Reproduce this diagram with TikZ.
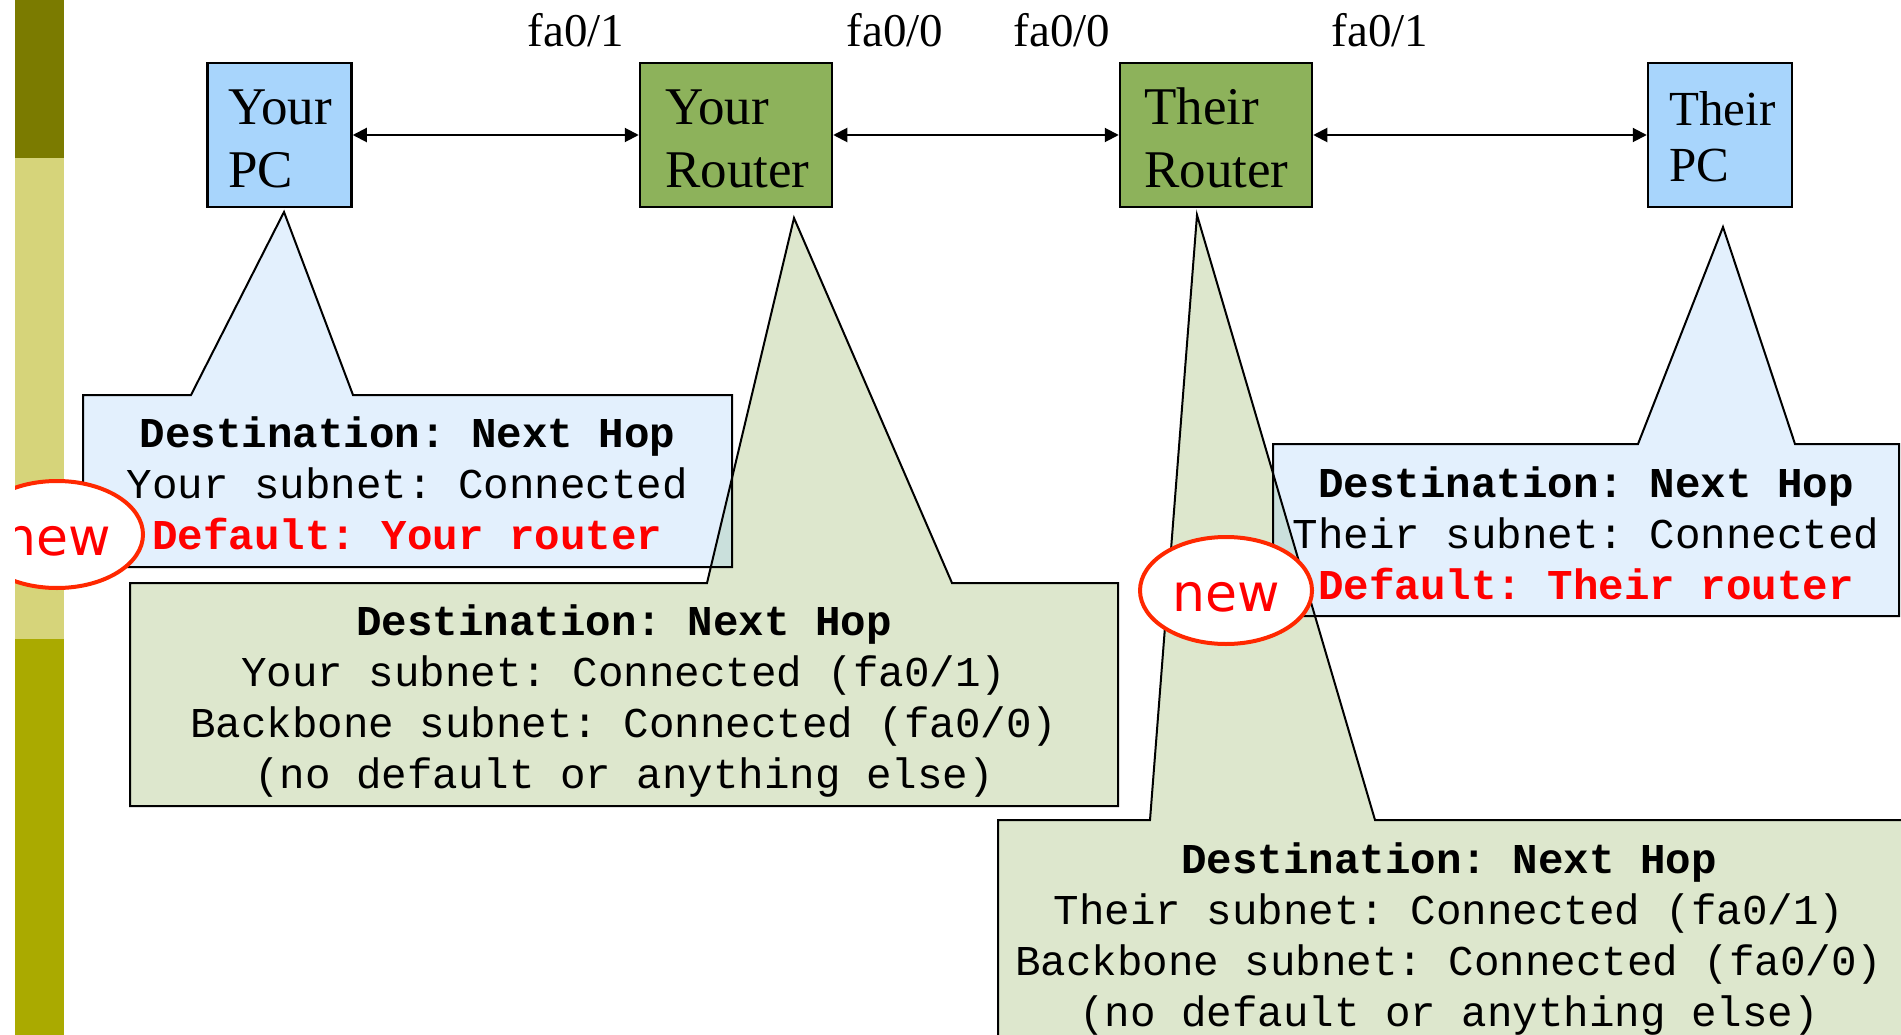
\documentclass[tikz,border=0pt]{standalone}
\usepackage{fontspec}
\setmainfont{Liberation Serif}
\newfontfamily\monof{Liberation Mono}
\newfontfamily\newlblfont{DejaVu Sans}
\usetikzlibrary{arrows.meta,shapes.geometric}
\frenchspacing
\definecolor{pcblue}{RGB}{168,213,252}
\definecolor{rtgreen}{RGB}{141,178,91}
\definecolor{cblue}{RGB}{227,240,253}
\definecolor{cgreen}{RGB}{221,231,205}
\definecolor{cover}{RGB}{202,224,220}
\definecolor{bardark}{RGB}{123,123,0}
\definecolor{barlight}{RGB}{214,212,122}
\definecolor{barmid}{RGB}{170,170,0}
\definecolor{newred}{RGB}{255,40,0}
\definecolor{txtred}{RGB}{255,0,0}
\begin{document}
\begin{tikzpicture}[x=1pt,y=-1pt,
  devbox/.style={draw=black, line width=2.5pt, inner sep=0pt, minimum height=144pt},
  pcbox/.style={devbox, fill=pcblue, minimum width=144pt},
  rtbox/.style={devbox, fill=rtgreen, minimum width=192pt},
  devlbl/.style={inner sep=0pt, anchor=base west, font=\fontsize{53}{63}\selectfont},
  portlbl/.style={inner sep=0pt, anchor=base, font=\fontsize{47}{56}\selectfont},
  link/.style={{Triangle[length=14pt,width=14pt]}-{Triangle[length=14pt,width=14pt]}, line width=2pt},
  callout/.style={draw=black, line width=2pt},
  tbl/.style={inner sep=0pt, anchor=base, font=\monof\fontsize{42.5}{51}\selectfont\frenchspacing},
  newmark/.style={ellipse, draw=newred, line width=4pt, fill=white, inner sep=0pt,
    minimum width=172pt, minimum height=107pt, text=txtred, text height=42pt, text depth=0pt,
    font=\newlblfont\fontsize{52}{60}\selectfont}
]
\useasboundingbox (0,0) rectangle (1901,1035);
% left bar
\fill[bardark] (15,0) rectangle (64,158);
\fill[barlight] (15,158) rectangle (64,639);
\fill[barmid] (15,639) rectangle (64,1035);

% callout fills (Your Router green, Your PC blue) with overlap
\fill[cgreen] (130,583) -- (707,583) -- (794,218) -- (952,583) -- (1118,583) -- (1118,806) -- (130,806) -- cycle;
\fill[cblue] (83,395) -- (191,395) -- (284,212) -- (353,395) -- (732,395) -- (732,567) -- (83,567) -- cycle;
\begin{scope}
  \clip (83,395) -- (191,395) -- (284,212) -- (353,395) -- (732,395) -- (732,567) -- (83,567) -- cycle;
  \fill[cover] (130,583) -- (707,583) -- (794,218) -- (952,583) -- (1118,583) -- (1118,806) -- (130,806) -- cycle;
\end{scope}
% callout fills (Their Router green, Their PC blue) with overlap
\fill[cgreen] (998,820) -- (1150,820) -- (1197,215) -- (1375,820) -- (1912,820) -- (1912,1045) -- (998,1045) -- cycle;
\fill[cblue] (1273,444) -- (1638,444) -- (1723,227) -- (1795,444) -- (1899,444) -- (1899,616) -- (1273,616) -- cycle;
\begin{scope}
  \clip (1273,444) -- (1638,444) -- (1723,227) -- (1795,444) -- (1899,444) -- (1899,616) -- (1273,616) -- cycle;
  \fill[cover] (998,820) -- (1150,820) -- (1197,215) -- (1375,820) -- (1912,820) -- (1912,1045) -- (998,1045) -- cycle;
\end{scope}
% callout outlines
\draw[callout] (130,583) -- (707,583) -- (794,218) -- (952,583) -- (1118,583) -- (1118,806) -- (130,806) -- cycle;
\draw[callout] (83,395) -- (191,395) -- (284,212) -- (353,395) -- (732,395) -- (732,567) -- (83,567) -- cycle;
\draw[callout] (998,820) -- (1150,820) -- (1197,215) -- (1375,820) -- (1912,820) -- (1912,1045) -- (998,1045) -- cycle;
\draw[callout] (1273,444) -- (1638,444) -- (1723,227) -- (1795,444) -- (1899,444) -- (1899,616) -- (1273,616) -- cycle;

% devices
\node[pcbox] (ypc) at (279.5,135) {};
\node[rtbox] (yrt) at (736,135) {};
\node[rtbox] (trt) at (1216,135) {};
\node[pcbox] (tpc) at (1720,135) {};
\node[devlbl] (ypcl) at (228,125) {\begin{tabular}[t]{@{}l@{}}Your\\PC\end{tabular}};
\node[devlbl] (yrtl) at (665,125) {\begin{tabular}[t]{@{}l@{}}Your\\Router\end{tabular}};
\node[devlbl] (trtl) at (1144,125) {\begin{tabular}[t]{@{}l@{}}Their\\Router\end{tabular}};
\node[devlbl, font=\fontsize{49}{56}\selectfont] (tpcl) at (1669,126) {\begin{tabular}[t]{@{}l@{}}Their\\PC\end{tabular}};

% links
\draw[link] (ypc.east) -- (yrt.west);
\draw[link] (yrt.east) -- (trt.west);
\draw[link] (trt.east) -- (tpc.west);

% port labels
\node[portlbl] (p1) at (576,47) {fa0/1};
\node[portlbl] (p2) at (895,47) {fa0/0};
\node[portlbl] (p3) at (1062,47) {fa0/0};
\node[portlbl] (p4) at (1380,47) {fa0/1};

% routing tables
\node[tbl] (t1) at (407.5,447) {\begin{tabular}[t]{@{}c@{}}\bfseries Destination: Next Hop\\Your subnet: Connected\\\color{txtred}\bfseries Default: Your router\end{tabular}};
\node[tbl] (t2) at (624,635) {\begin{tabular}[t]{@{}c@{}}\bfseries Destination: Next Hop\\Your subnet: Connected (fa0/1)\\Backbone subnet: Connected (fa0/0)\\(no default or anything else)\end{tabular}};
\node[tbl] (t3) at (1586,497) {\begin{tabular}[t]{@{}c@{}}\bfseries Destination: Next Hop\\Their subnet: Connected\\\color{txtred}\bfseries Default: Their router\end{tabular}};
\node[tbl] (t4) at (1449,873) {\begin{tabular}[t]{@{}c@{}}\bfseries Destination: Next Hop\\Their subnet: Connected (fa0/1)\\Backbone subnet: Connected (fa0/0)\\(no default or anything else)\end{tabular}};

% "new" marks
\begin{scope}
  \clip (15,0) rectangle (1901,1035);
  \node[newmark] (new1) at (57,534.5) {new};
\end{scope}
\node[newmark] (new2) at (1226,590.5) {new};
\end{tikzpicture}
\end{document}
